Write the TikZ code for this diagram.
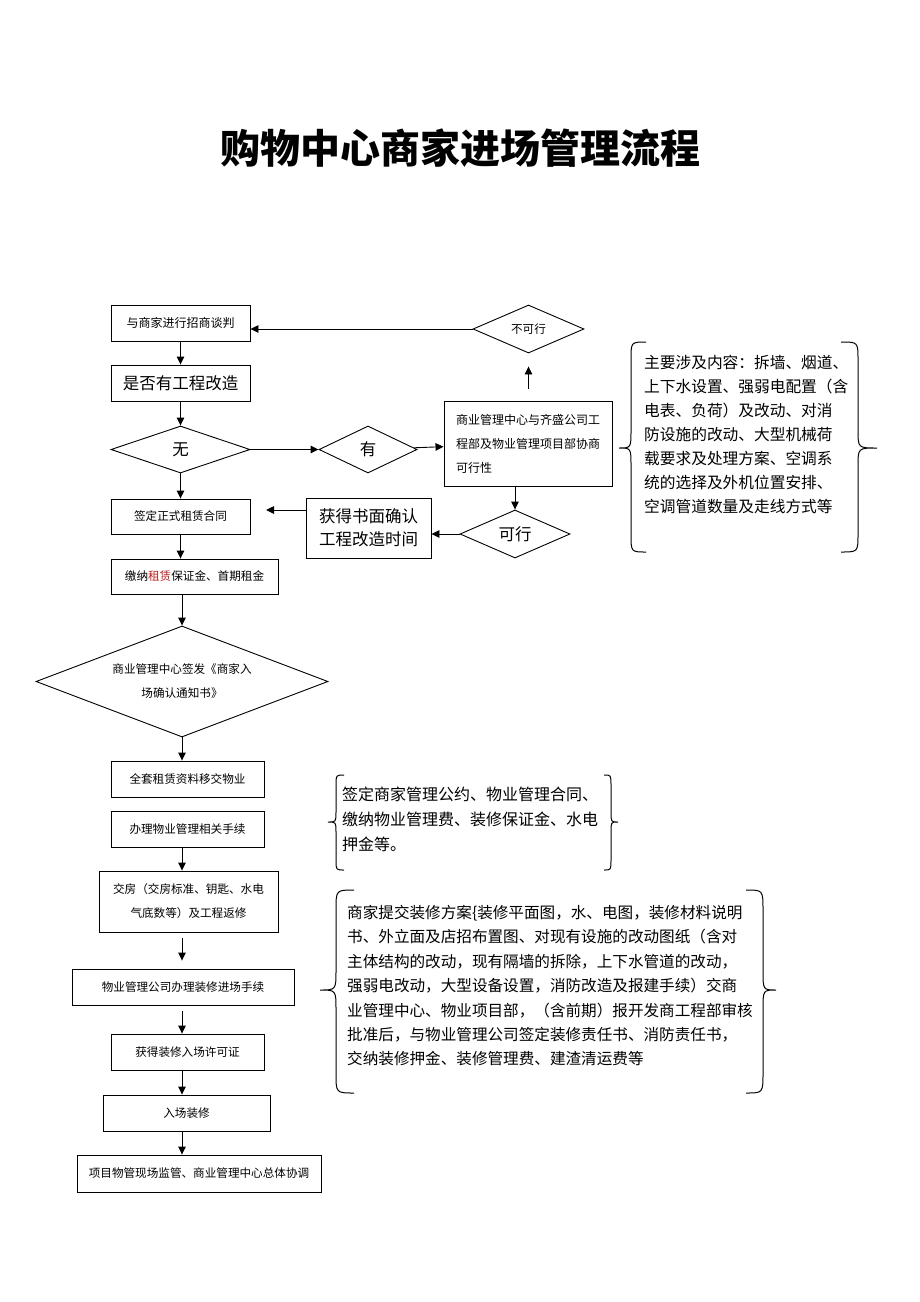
\documentclass[tikz,border=0pt]{standalone}
\usepackage{fontspec}
\setmainfont{Noto Sans CJK SC}
\usetikzlibrary{arrows.meta,shapes.geometric}
\definecolor{dred}{RGB}{190,30,30}
\newcommand\BraceShape[7]{\draw[brc] (#3,#4) .. controls (#2,#4) .. (#2,#4+#7) -- (#2,#5-#7) .. controls (#2,#5) .. (#1,#5) .. controls (#2,#5) .. (#2,#5+#7) -- (#2,#6-#7) .. controls (#2,#6) .. (#3,#6);}
\begin{document}
\begin{tikzpicture}[x=1pt,y=-1pt,
 box/.style={draw,line width=0.9pt,inner sep=0pt,align=center},
 dia/.style={draw,diamond,aspect=2.6,line width=0.9pt,inner sep=0pt,align=center},
 arr/.style={line width=0.9pt,-{Triangle[length=8pt,width=7.5pt]}},
 brc/.style={line width=1pt},
 fs/.style={font=\fontsize{11.6}{24}\selectfont},
 fm/.style={font=\fontsize{12}{24}\selectfont},
 fl/.style={font=\fontsize{16.5}{23}\selectfont},
 fb/.style={font=\fontsize{15.7}{24}\selectfont}]
\useasboundingbox (0,0) rectangle (920,1302);
\node[font=\fontsize{40}{48}\selectfont\bfseries] (title) at (460,148) {购物中心商家进场管理流程};
% top part
\node[box,fm,minimum width=139pt,minimum height=36pt] (b1) at (180.5,323) {与商家进行招商谈判};
\node[box,fl,minimum width=139pt,minimum height=36pt] (b2) at (180.5,383) {是否有工程改造};
\node[dia,fl,minimum width=139pt,minimum height=47pt] (d1) at (180.5,449.5) {无};
\node[dia,fl,minimum width=98pt,minimum height=47pt] (d2) at (368,449.5) {有};
\node[box,fm,align=left,minimum width=168pt,minimum height=85pt] (xs) at (528,443.5) {商业管理中心与齐盛公司工\\程部及物业管理项目部协商\\可行性};
\node[dia,fs,minimum width=111pt,minimum height=48pt] (nk) at (528.5,329) {不可行};
\node[box,fl,minimum width=125pt,minimum height=60pt] (hq) at (368.5,528) {获得书面确认\\工程改造时间};
\node[dia,fl,minimum width=110pt,minimum height=48pt] (kx) at (515,534) {可行};
\node[box,fs,minimum width=139pt,minimum height=35pt] (qd) at (180.5,516.5) {签定正式租赁合同};
\node[box,fs,minimum width=167pt,minimum height=35pt] (jn) at (194.5,576.5) {缴纳{\color{dred}租赁}保证金、首期租金};
\node[dia,fs,minimum width=292pt,minimum height=111pt] (bd) at (182,681.5) {商业管理中心签发《商家入\\场确认通知书》};
% lower part
\node[box,fs,minimum width=153pt,minimum height=36pt] (s1) at (187.5,779) {全套租赁资料移交物业};
\node[box,fs,minimum width=153pt,minimum height=36pt] (s2) at (187.5,829) {办理物业管理相关手续};
\node[box,fs,minimum width=179pt,minimum height=61pt] (s3) at (188.5,901.5) {交房（交房标准、钥匙、水电\\气底数等）及工程返修};
\node[box,fs,minimum width=222pt,minimum height=36pt] (s4) at (183,987) {物业管理公司办理装修进场手续};
\node[box,fs,minimum width=153pt,minimum height=36pt] (s5) at (187.5,1052) {获得装修入场许可证};
\node[box,fs,minimum width=167pt,minimum height=36pt] (s6) at (186.5,1113) {入场装修};
\node[box,fs,minimum width=244pt,minimum height=37pt] (s7) at (199,1173.5) {项目物管现场监管、商业管理中心总体协调};
% arrows
\draw[arr] (b1) -- (b2);
\draw[arr] (b2) -- (d1);
\draw[arr] (d1) -- (qd);
\draw[arr] (qd.south) -- (qd.south |- jn.north);
\draw[arr] (jn.south -| bd.north) -- (bd.north);
\draw[arr] (d1) -- (d2);
\draw[arr] (d2) -- (xs);
\draw[arr] ([yshift=12pt]xs.north -| nk.south) -- ([yshift=-13pt]nk.south);
\draw[arr] (nk.west) -- (nk.west -| b1.east);
\draw[arr] (xs.south -| kx.north) -- (kx.north);
\draw[arr] (kx.west) -- (kx.west -| hq.east);
\coordinate (c1) at (266,510);
\draw[arr] (c1 -| hq.west) -- (c1);
\draw[arr] (bd.south) -- (bd.south |- s1.north);
\draw[arr] (s2.south -| bd.south) -- (s3.north -| bd.south);
\draw[arr,shorten <=6pt,shorten >=8pt] (s3.south -| bd.south) -- (s4.north -| bd.south);
\draw[arr,shorten <=6pt] (s4.south -| bd.south) -- (s5.north -| bd.south);
\draw[arr] (s5.south -| bd.south) -- (s6.north -| bd.south);
\draw[arr] (s6.south -| bd.south) -- (s7.north -| bd.south);
% brace notes
\node[fb,align=left,anchor=north west,inner sep=0pt] (t1) at (644,355) {主要涉及内容：拆墙、烟道、\\上下水设置、强弱电配置（含\\电表、负荷）及改动、对消\\防设施的改动、大型机械荷\\载要求及处理方案、空调系\\统的选择及外机位置安排、\\空调管道数量及走线方式等};
\BraceShape{619}{631}{646}{342}{448}{552}{18}
\BraceShape{877}{858}{841}{342}{448}{552}{18}
\node[font=\fontsize{16}{25}\selectfont,align=left,anchor=north west,inner sep=0pt] (t2) at (342,787) {签定商家管理公约、物业管理合同、\\缴纳物业管理费、装修保证金、水电\\押金等。};
\BraceShape{328}{336}{344}{775}{822}{870}{10}
\BraceShape{618}{611}{604}{775}{822}{870}{10}
\node[font=\fontsize{15.6}{24.4}\selectfont,align=left,anchor=north west,inner sep=0pt] (t3) at (347,905) {商家提交装修方案{\{}装修平面图，水、电图，装修材料说明\\书、外立面及店招布置图、对现有设施的改动图纸（含对\\主体结构的改动，现有隔墙的拆除，上下水管道的改动，\\强弱电改动，大型设备设置，消防改造及报建手续）交商\\业管理中心、物业项目部，（含前期）报开发商工程部审核\\批准后，与物业管理公司签定装修责任书、消防责任书，\\交纳装修押金、装修管理费、建渣清运费等};
\BraceShape{320}{336}{354}{890}{990}{1093}{20}
\BraceShape{776}{763}{746}{890}{990}{1093}{20}
\end{tikzpicture}
\end{document}
